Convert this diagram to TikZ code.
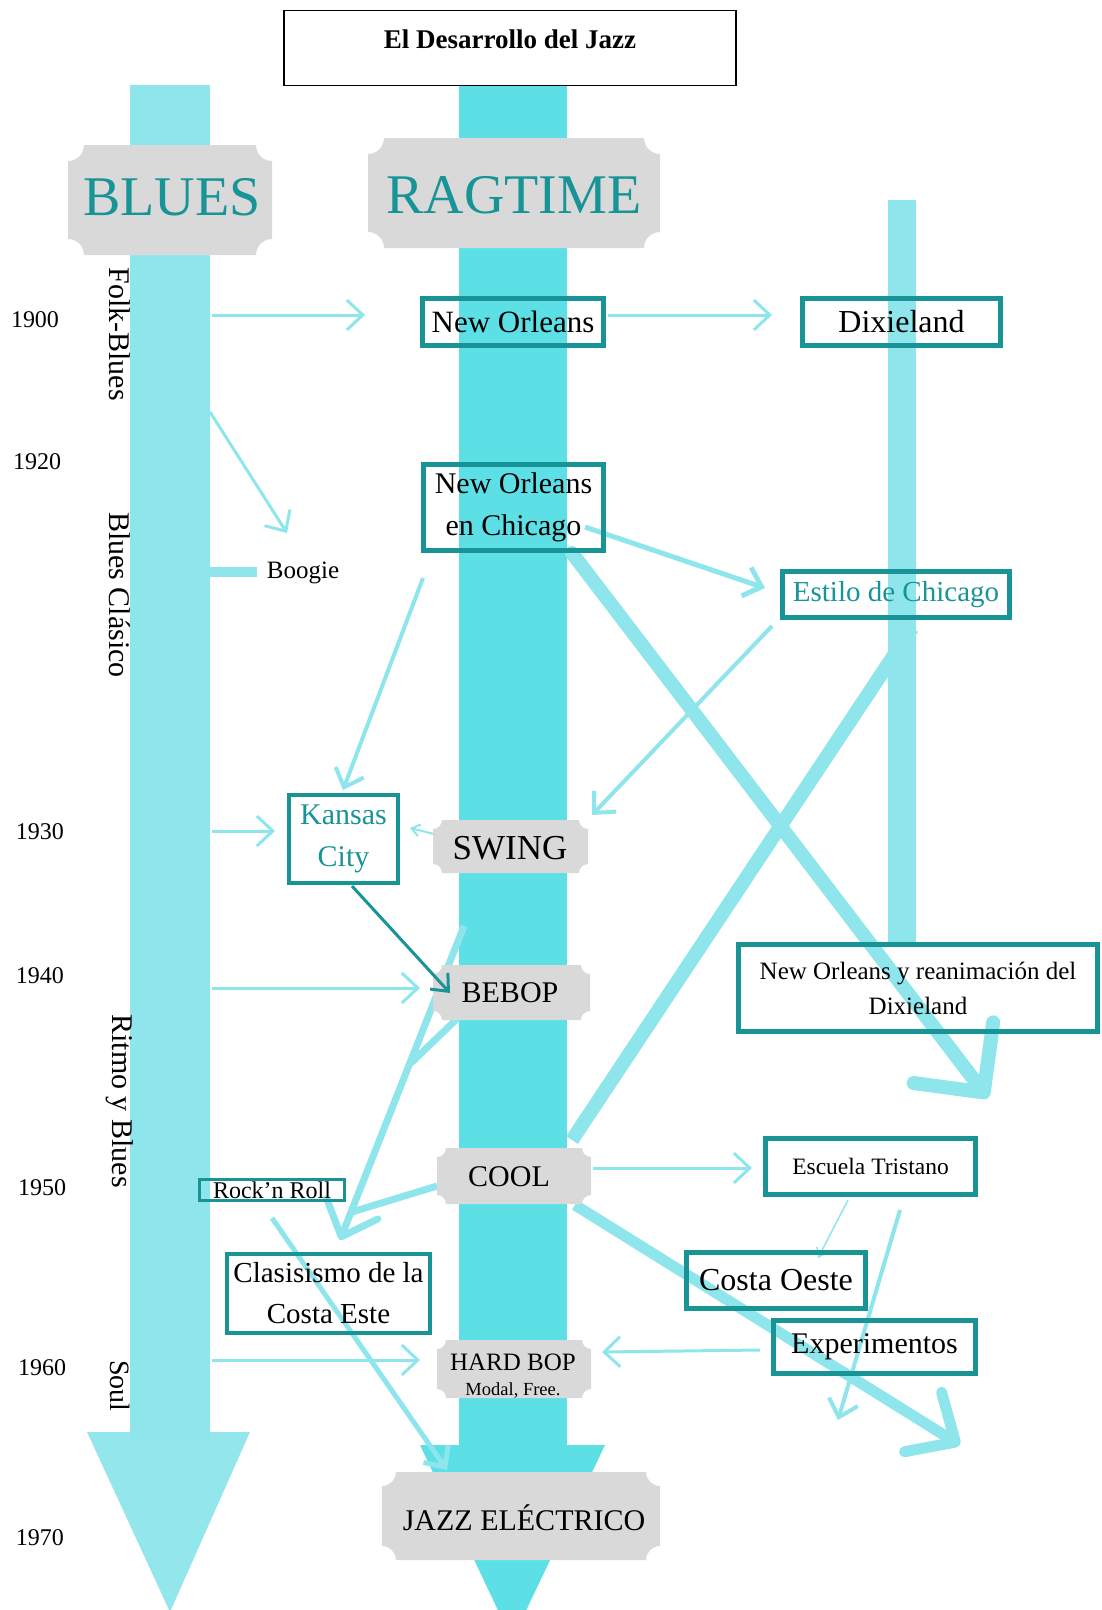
\documentclass[tikz,border=0pt]{standalone}
\usepackage{fontspec}
\setmainfont{Liberation Serif}
\usetikzlibrary{arrows.meta}
\definecolor{teal1}{RGB}{24,148,151}
\definecolor{lcyan}{RGB}{142,230,236}
\definecolor{rcyan}{RGB}{92,224,230}
\definecolor{gray1}{RGB}{217,217,217}
\newcommand\fs[2]{\fontsize{#1}{#2}\selectfont}
\newcommand\jticket[5]{%
\fill[gray1] (#1+#5,#2) -- (#3-#5,#2) .. controls (#3-#5,#2+0.552*#5) and (#3-0.552*#5,#2+#5) .. (#3,#2+#5)
 -- (#3,#4-#5) .. controls (#3-0.552*#5,#4-#5) and (#3-#5,#4-0.552*#5) .. (#3-#5,#4)
 -- (#1+#5,#4) .. controls (#1+#5,#4-0.552*#5) and (#1+0.552*#5,#4-#5) .. (#1,#4-#5)
 -- (#1,#2+#5) .. controls (#1+0.552*#5,#2+#5) and (#1+#5,#2+0.552*#5) .. (#1+#5,#2) -- cycle;}
\begin{document}
\begin{tikzpicture}[x=1pt,y=-1pt,
  box/.style={draw=teal1, line width=5pt, inner sep=0pt, align=center, text=black},
  lbl/.style={inner sep=0pt, align=center},
  year/.style={inner sep=0pt, font=\fs{24}{28}},
  side/.style={inner sep=0pt, rotate=-90, font=\fs{30}{34}},
  arr/.style={draw=lcyan, line width=3pt, -{Straight Barb[length=16pt,width=30pt]}},
  tarr/.style={draw=lcyan, line width=2pt, -{Straight Barb[length=8pt,width=12pt]}},
  thick/.style={draw=lcyan, line width=14pt},
]
\useasboundingbox (0,0) rectangle (1102,1610);
\fill[white] (0,0) rectangle (1102,1610);

% ---- columns
\fill[lcyan] (130,85) rectangle (210,1440);
\fill[lcyan, fill opacity=0.95] (87,1432) -- (250,1432) -- (170,1612) -- cycle;
\fill[rcyan] (459,86) rectangle (567,1448);
\fill[rcyan] (420,1445) -- (605,1445) -- (512,1640) -- cycle;
\fill[lcyan] (888,200) rectangle (916,945);

% ---- coordinates for connector ends
\coordinate (b1) at (212,315);   \coordinate (b1e) at (365,315);
\coordinate (no1) at (608,315);  \coordinate (no1e) at (772,315);
\coordinate (b2) at (210,412);   \coordinate (b2e) at (287,533);
\coordinate (nc1) at (585,527);  \coordinate (nc1e) at (765,588);
\coordinate (nc2) at (423,578);  \coordinate (nc2e) at (343,790);
\coordinate (es1) at (772,626);  \coordinate (es1e) at (592,815);
\coordinate (nc3) at (572,553);  \coordinate (nc3e) at (988,1098);
\coordinate (es2) at (912,628);  \coordinate (es2e) at (572,1140);
\coordinate (b3) at (212,831);   \coordinate (b3e) at (275,831);
\coordinate (sw1) at (442,836);  \coordinate (sw1e) at (410,828);
\coordinate (b4) at (212,988);   \coordinate (b4e) at (420,988);
\coordinate (bp1) at (464,926);  \coordinate (cce1) at (340,1240);
\coordinate (bp2) at (464,1012); \coordinate (bp2e) at (412,1062);
\coordinate (cl1) at (437,1186); \coordinate (cl1e) at (352,1212);
\coordinate (cl2) at (593,1168); \coordinate (cl2e) at (752,1168);
\coordinate (cl3) at (575,1205); \coordinate (cl3e) at (960,1445);
\coordinate (et1) at (848,1200); \coordinate (et1e) at (818,1258);
\coordinate (et2) at (900,1210); \coordinate (et2e) at (838,1420);
\coordinate (ex1) at (760,1350); \coordinate (ex1e) at (602,1352);
\coordinate (b5) at (212,1360);  \coordinate (b5e) at (420,1360);
\coordinate (rr1) at (272,1218); \coordinate (rr1e) at (447,1470);
\coordinate (bg1) at (188,572);  \coordinate (bg1e) at (257,572);

% ---- connectors
\draw[arr] (b1) -- (b1e);
\draw[arr] (no1) -- (no1e);
\draw[arr] (b2) -- (b2e);
\draw[arr, line width=5pt] (nc1) -- (nc1e);
\draw[arr, line width=4pt] (nc2) -- (nc2e);
\draw[arr, line width=4pt] (es1) -- (es1e);
\draw[thick, line cap=round, -{Straight Barb[length=50pt,width=100pt,round]}] (nc3) -- (nc3e);
\draw[thick] (es2) -- (es2e);
\draw[arr] (b3) -- (b3e);
\draw[tarr] (sw1) -- (sw1e);
\draw[arr] (b4) -- (b4e);
\draw[draw=lcyan, line width=7pt, -{Straight Barb[length=30pt,width=55pt,round]}] (bp1) -- (cce1);
\draw[draw=lcyan, line width=7pt, line cap=round] (bp2) -- (bp2e);
\draw[draw=lcyan, line width=7pt] (cl1) -- (cl1e);
\draw[arr] (cl2) -- (cl2e);
\draw[draw=lcyan, line width=11pt, -{Straight Barb[length=38pt,width=70pt,round]}] (cl3) -- (cl3e);
\draw[tarr, line width=1.5pt] (et1) -- (et1e);
\draw[arr, line width=4pt] (et2) -- (et2e);
\draw[arr] (ex1) -- (ex1e);
\draw[arr] (b5) -- (b5e);
\draw[arr, line width=5pt] (rr1) -- (rr1e);
\draw[draw=lcyan, line width=10pt] (bg1) -- (bg1e);

% ---- banners
\jticket{68}{145}{272}{255}{16}
\jticket{368}{138}{660}{248}{16}
\jticket{433}{820}{588}{873}{9}
\jticket{433}{965}{590}{1020}{9}
\jticket{437}{1148}{591}{1204}{9}
\jticket{437}{1340}{591}{1398}{9}
\jticket{382}{1472}{660}{1560}{14}

\node[lbl, text=teal1, font=\fs{56}{60}] (blues) at (172,197) {BLUES};
\node[lbl, text=teal1, font=\fs{56}{60}] (rag) at (514,195) {RAGTIME};
\node[lbl, font=\fs{35}{40}] (swing) at (510,848) {SWING};
\node[lbl, font=\fs{30}{34}] (bebop) at (510,993) {BEBOP};
\node[lbl, font=\fs{30}{34}] (cool) at (509,1177) {COOL};
\node[lbl, font=\fs{25}{28}] (hardbop) at (513,1362) {HARD BOP};
\node[lbl, font=\fs{18.5}{22}] (modal) at (513,1390) {Modal, Free.};
\node[lbl, font=\fs{30}{34}] (jazz) at (524,1518) {JAZZ ELÉCTRICO};

% ---- boxes
\node[box, minimum width=181pt, minimum height=47pt, font=\fs{31}{36}] (no) at (513,322) {New Orleans};
\node[box, minimum width=198pt, minimum height=47pt, font=\fs{32}{36}] (dix) at (901.5,322) {Dixieland};
\node[box, minimum width=180pt, minimum height=86pt, font=\fs{30}{42}] (noc) at (513.5,507.5) {New Orleans\\en Chicago};
\node[box, minimum width=227pt, minimum height=46pt, font=\fs{29}{34}, text=teal1] (est) at (896,594.5) {Estilo de Chicago};
\node[box, line width=4pt, minimum width=109pt, minimum height=88pt, font=\fs{30}{42}, text=teal1] (kc) at (343.5,839) {Kansas\\City};
\node[box, minimum width=359pt, minimum height=87pt, font=\fs{25}{35}] (nod) at (918,988) {New Orleans y reanimación del\\Dixieland};
\node[box, line width=3pt, minimum width=145pt, minimum height=21pt, font=\fs{24}{28}] (rr) at (272,1190) {Rock’n Roll};
\node[box, line width=4pt, minimum width=203pt, minimum height=79pt, font=\fs{29}{41}] (cce) at (328.5,1293.5) {Clasisismo de la\\Costa Este};
\node[box, minimum width=210pt, minimum height=56pt, font=\fs{23.5}{28}] (et) at (870.5,1166.5) {Escuela Tristano};
\node[box, minimum width=179pt, minimum height=56pt, font=\fs{32}{36}] (co) at (776,1280.5) {Costa Oeste};
\node[box, minimum width=202pt, minimum height=53pt, font=\fs{30}{34}] (ex) at (874.5,1347) {Experimentos};

% teal arrow Kansas City -> BEBOP
\coordinate (kc1) at (352,886); \coordinate (kc1e) at (450,993);
\draw[draw=teal1, line width=3pt, -{Straight Barb[length=14pt,width=24pt]}] (kc1) -- (kc1e);

\node[lbl, font=\fs{25}{28}] (boogie) at (303,573) {Boogie};

% ---- title
\node[draw=black, line width=1.5pt, minimum width=452pt, minimum height=75pt, inner sep=0pt] (titlebox) at (510,48) {};
\node[lbl, font=\bfseries\fs{27}{30}] (title) at (510,39) {El Desarrollo del Jazz};

% ---- years
\node[year] (y1900) at (35,320) {1900};
\node[year] (y1920) at (37,462) {1920};
\node[year] (y1930) at (40,832) {1930};
\node[year] (y1940) at (40,976) {1940};
\node[year] (y1950) at (42,1188) {1950};
\node[year] (y1960) at (42,1368) {1960};
\node[year] (y1970) at (40,1538) {1970};

% ---- side labels
\node[side] (fb) at (120,334) {Folk-Blues};
\node[side] (bc) at (120,595) {Blues Clásico};
\node[side] (ryb) at (120,1101) {Ritmo y Blues};
\node[side, font=\fs{28}{32}] (soul) at (120,1386) {Soul};
\end{tikzpicture}
\end{document}
